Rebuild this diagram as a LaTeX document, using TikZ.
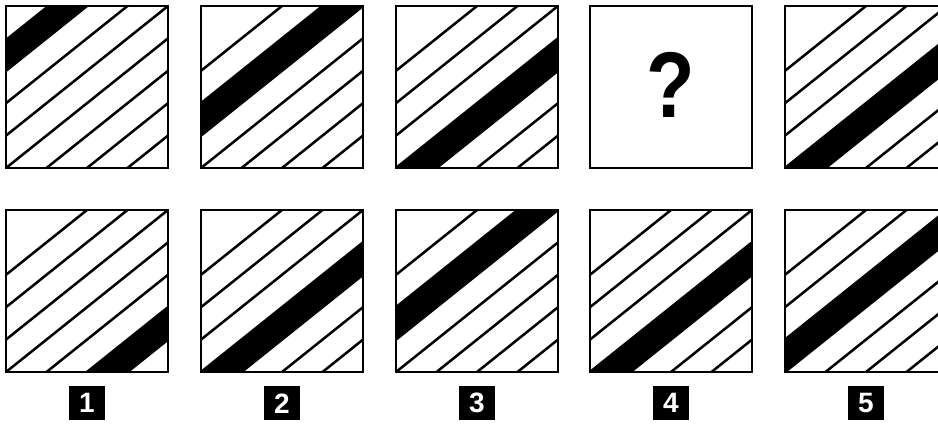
\documentclass[tikz,border=0pt]{standalone}
\usepackage{fontspec}
\setmainfont{Liberation Sans}
\usepackage{graphicx}
\usepackage{tikz}
\usetikzlibrary{positioning}
\tikzstyle{frame} = [draw=black, line width=2.2pt]
\tikzstyle{hatch} = [draw=black, line width=1.9pt]
\tikzstyle{band} = [fill=black]
\tikzstyle{tag} = [rectangle, fill=black, text=white, minimum width=27pt, minimum height=25.5pt, inner sep=0pt, font=\fontsize{21}{21}\selectfont\bfseries]
\tikzstyle{ask} = [inner sep=0pt, text=black, font=\fontsize{70}{70}\selectfont\bfseries]

% tile: name, left, bottom, lower edge of the black band
\newcommand{\hatchtile}[4]{%
  \begin{scope}[shift={(#2,#3)}, x=121.5pt, y=121.5pt]
    \coordinate (#1) at (0.5,0.5);
    \coordinate (#1-b) at (0.5,0);
    \begin{scope}
      \clip (0,0) rectangle (1,1);
      \fill[band] (-0.2,{#4-0.16}) -- (1.2,{#4+0.96}) -- (1.2,{#4+1.16}) -- (-0.2,{#4+0.04}) -- cycle;
      \foreach \c in {-0.6,-0.4,...,0.8}
        \draw[hatch] (-0.2,{\c-0.16}) -- (1.2,{\c+0.96});
    \end{scope}
    \draw[frame] (0,0) rectangle (1,1);
  \end{scope}}

\begin{document}
\begin{tikzpicture}[x=0.75pt, y=0.75pt]
        \useasboundingbox (0,0) rectangle (938,424);
        \clip (0,0) rectangle (938,424);

        % Sequence
        \hatchtile{seq1}{6}{256}{0.6}
        \hatchtile{seq2}{201}{256}{0.2}
        \hatchtile{seq3}{396}{256}{-0.2}
        \draw[frame] (590,256) rectangle +(162,162);
        \coordinate (seq4) at (671,339);
        \node[ask] (q) at (seq4) {\scalebox{0.85}[1]{?}};
        \hatchtile{seq5}{785}{256}{-0.2}

        % Answer choices
        \hatchtile{opt1}{6}{52}{-0.6}
        \hatchtile{opt2}{201}{52}{-0.2}
        \hatchtile{opt3}{396}{52}{0.2}
        \hatchtile{opt4}{590}{52}{-0.2}
        \hatchtile{opt5}{785}{52}{0.0}

        % Numbers
        \node[tag, below=10.5pt of opt1-b] (tag1) {1};
        \node[tag, below=10.5pt of opt2-b] (tag2) {2};
        \node[tag, below=10.5pt of opt3-b] (tag3) {3};
        \node[tag, below=10.5pt of opt4-b] (tag4) {4};
        \node[tag, below=10.5pt of opt5-b] (tag5) {5};
    \end{tikzpicture}
\end{document}
